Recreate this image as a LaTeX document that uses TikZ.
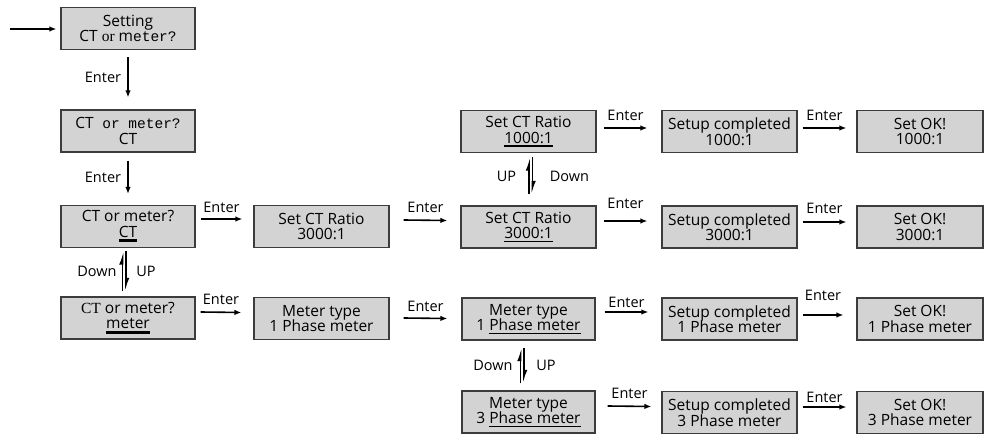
\documentclass[tikz,border=0pt]{standalone}
\usepackage{fontspec}
\setmainfont{Open Sans}
\newfontfamily\serifx{Liberation Serif}
\newfontfamily\monox{Liberation Mono}
\usetikzlibrary{arrows.meta}
\definecolor{scrfill}{RGB}{211,211,211}
\definecolor{scredge}{RGB}{60,60,60}
\newcommand{\ulx}[2]{\leavevmode\vtop{\hbox{#2}\kern1.8pt\hrule height #1\relax}}
\newcommand{\monoy}{\monox\fontsize{14.5}{15.5}\selectfont}
\begin{document}
\begin{tikzpicture}[x=1pt,y=-1pt,
  scr/.style={draw=scredge, fill=scrfill, line width=1.2pt, minimum width=134pt, minimum height=42pt,
    align=center, font=\fontsize{15.5}{15.5}\selectfont, inner sep=0pt},
  scrk/.style={scr, minimum width=126pt},
  arr/.style={line width=1.6pt, -{Latex[length=7pt,width=5.5pt]}},
  lbl/.style={font=\fontsize{14.5}{15}\selectfont, inner sep=0pt},
  harp/.style={line width=1.7pt, -{Latex[left,length=10pt,width=7pt]}}
]
\path[use as bounding box, fill=white] (0,0) rectangle (984,435);

% column 1
\node[scr] (b1) at (128,28.5) {Setting\\CT {\serifx or} m{\monoy eter?}};
\node[scr] (b2) at (128,131) {CT{\monoy\ or meter?}\\CT};
\node[scr] (b3) at (128,226.5) {CT or meter?\\\ulx{3pt}{CT}};
\node[scr] (b4) at (128,318) {{\serifx CT} or meter?\\\ulx{3pt}{meter}};

% column 2
\node[scr, minimum width=135pt] (r1) at (321.5,226.5) {Set CT Ratio\\3000:1};
\node[scr, minimum width=135pt] (m1) at (321.5,318.5) {Meter type\\1 Phase meter};

% column 3
\node[scr, minimum width=135pt] (r2) at (528.5,131.5) {Set CT Ratio\\\ulx{1.5pt}{1000:1}};
\node[scr, minimum width=135pt] (r3) at (528.5,227) {Set CT Ratio\\\ulx{1.5pt}{3000:1}};
\node[scr, minimum width=133pt] (m2) at (528.5,319) {Meter type\\1 \ulx{1.5pt}{Phase meter}};
\node[scr, minimum width=133pt] (m3) at (528.5,412) {Meter type\\3 \ulx{1.5pt}{Phase meter}};

% column 4
\node[scr, minimum width=135pt] (s1) at (729.5,131.5) {Setup completed\\1000:1};
\node[scr, minimum width=135pt] (s2) at (729.5,227) {Setup completed\\3000:1};
\node[scr, minimum width=135pt] (s3) at (729.5,319) {Setup completed\\1 Phase meter};
\node[scr, minimum width=135pt] (s4) at (729.5,412.5) {Setup completed\\3 Phase meter};

% column 5
\node[scrk] (k1) at (920,131.5) {Set OK!\\1000:1};
\node[scrk] (k2) at (920,227) {Set OK!\\3000:1};
\node[scrk] (k3) at (920,319) {Set OK!\\1 Phase meter};
\node[scrk] (k4) at (920,412.5) {Set OK!\\3 Phase meter};

% entry arrow
\coordinate (start) at (10,29);
\draw[arr] (start) -- ([xshift=-4pt,yshift=-0.5pt]b1.west);

% vertical enter arrows
\draw[arr] ([yshift=-7pt]b1.south) -- ([yshift=12pt]b2.north) node[lbl, midway, xshift=-25pt] {Enter};
\draw[arr] ([yshift=-8pt]b2.south) -- ([yshift=11pt]b3.north) node[lbl, midway, xshift=-25pt] {Enter};

% up/down pairs
\draw[harp] ([xshift=-5.5pt,yshift=5pt]b4.north) -- ([xshift=-5.5pt,yshift=-3pt]b3.south);
\draw[harp] ([xshift=-2pt,yshift=-3pt]b3.south) -- ([xshift=-2pt,yshift=5pt]b4.north)
  node[lbl, midway, xshift=-29pt] {Down} node[lbl, midway, xshift=20pt] {UP};

\draw[harp] ([xshift=0.5pt,yshift=11pt]r3.north) -- ([xshift=0.5pt,yshift=-4pt]r2.south);
\draw[harp] ([xshift=4pt,yshift=-4pt]r2.south) -- ([xshift=4pt,yshift=11pt]r3.north)
  node[lbl, midway, xshift=-26pt, yshift=-1pt] {UP} node[lbl, midway, xshift=37pt, yshift=-1pt] {Down};

\draw[harp] ([xshift=-8pt,yshift=7pt]m3.north) -- ([xshift=-8pt,yshift=-7pt]m2.south);
\draw[harp] ([xshift=-4.5pt,yshift=-7pt]m2.south) -- ([xshift=-4.5pt,yshift=7pt]m3.north)
  node[lbl, midway, xshift=-31pt] {Down} node[lbl, midway, xshift=22pt] {UP};

% horizontal enter arrows
\draw[arr] ([xshift=5pt,yshift=7.5pt]b3.east) -- ([xshift=-11pt,yshift=7.5pt]r1.west) node[lbl, midway, yshift=12pt] {Enter};
\draw[arr] ([xshift=14pt,yshift=6.5pt]r1.east) -- ([xshift=-13pt,yshift=6.5pt]r3.west) node[lbl, midway, yshift=13pt] {Enter};
\draw[arr] ([xshift=7pt,yshift=6pt]r3.east) -- ([xshift=-14pt,yshift=6pt]s2.west) node[lbl, midway, yshift=18pt] {Enter};
\draw[arr] ([xshift=5pt,yshift=5pt]s2.east) -- ([xshift=-10pt,yshift=5pt]k2.west) node[lbl, midway, yshift=14pt] {Enter};

\draw[arr] ([xshift=7pt,yshift=3.5pt]r2.east) -- ([xshift=-14pt,yshift=3.5pt]s1.west) node[lbl, midway, yshift=13pt] {Enter};
\draw[arr] ([xshift=5pt,yshift=3.5pt]s1.east) -- ([xshift=-10pt,yshift=3.5pt]k1.west) node[lbl, midway, yshift=13pt] {Enter};

\draw[arr] ([xshift=5pt,yshift=6pt]b4.east) -- ([xshift=-12pt,yshift=6pt]m1.west) node[lbl, midway, yshift=13pt] {Enter};
\draw[arr] ([xshift=14pt,yshift=0.5pt]m1.east) -- ([xshift=-14pt,yshift=0.5pt]m2.west) node[lbl, midway, yshift=12pt] {Enter};
\draw[arr] ([xshift=9pt,yshift=7pt]m2.east) -- ([xshift=-13pt,yshift=7pt]s3.west) node[lbl, midway, yshift=10pt] {Enter};
\draw[arr] ([xshift=5pt,yshift=4pt]s3.east) -- ([xshift=-13pt,yshift=4pt]k3.west) node[lbl, midway, yshift=20pt] {Enter};

\draw[arr] ([xshift=12pt,yshift=6pt]m3.east) -- ([xshift=-10pt,yshift=6pt]s4.west) node[lbl, midway, yshift=13pt] {Enter};
\draw[arr] ([xshift=5pt,yshift=5.5pt]s4.east) -- ([xshift=-10pt,yshift=5.5pt]k4.west) node[lbl, midway, yshift=10pt] {Enter};
\end{tikzpicture}
\end{document}
